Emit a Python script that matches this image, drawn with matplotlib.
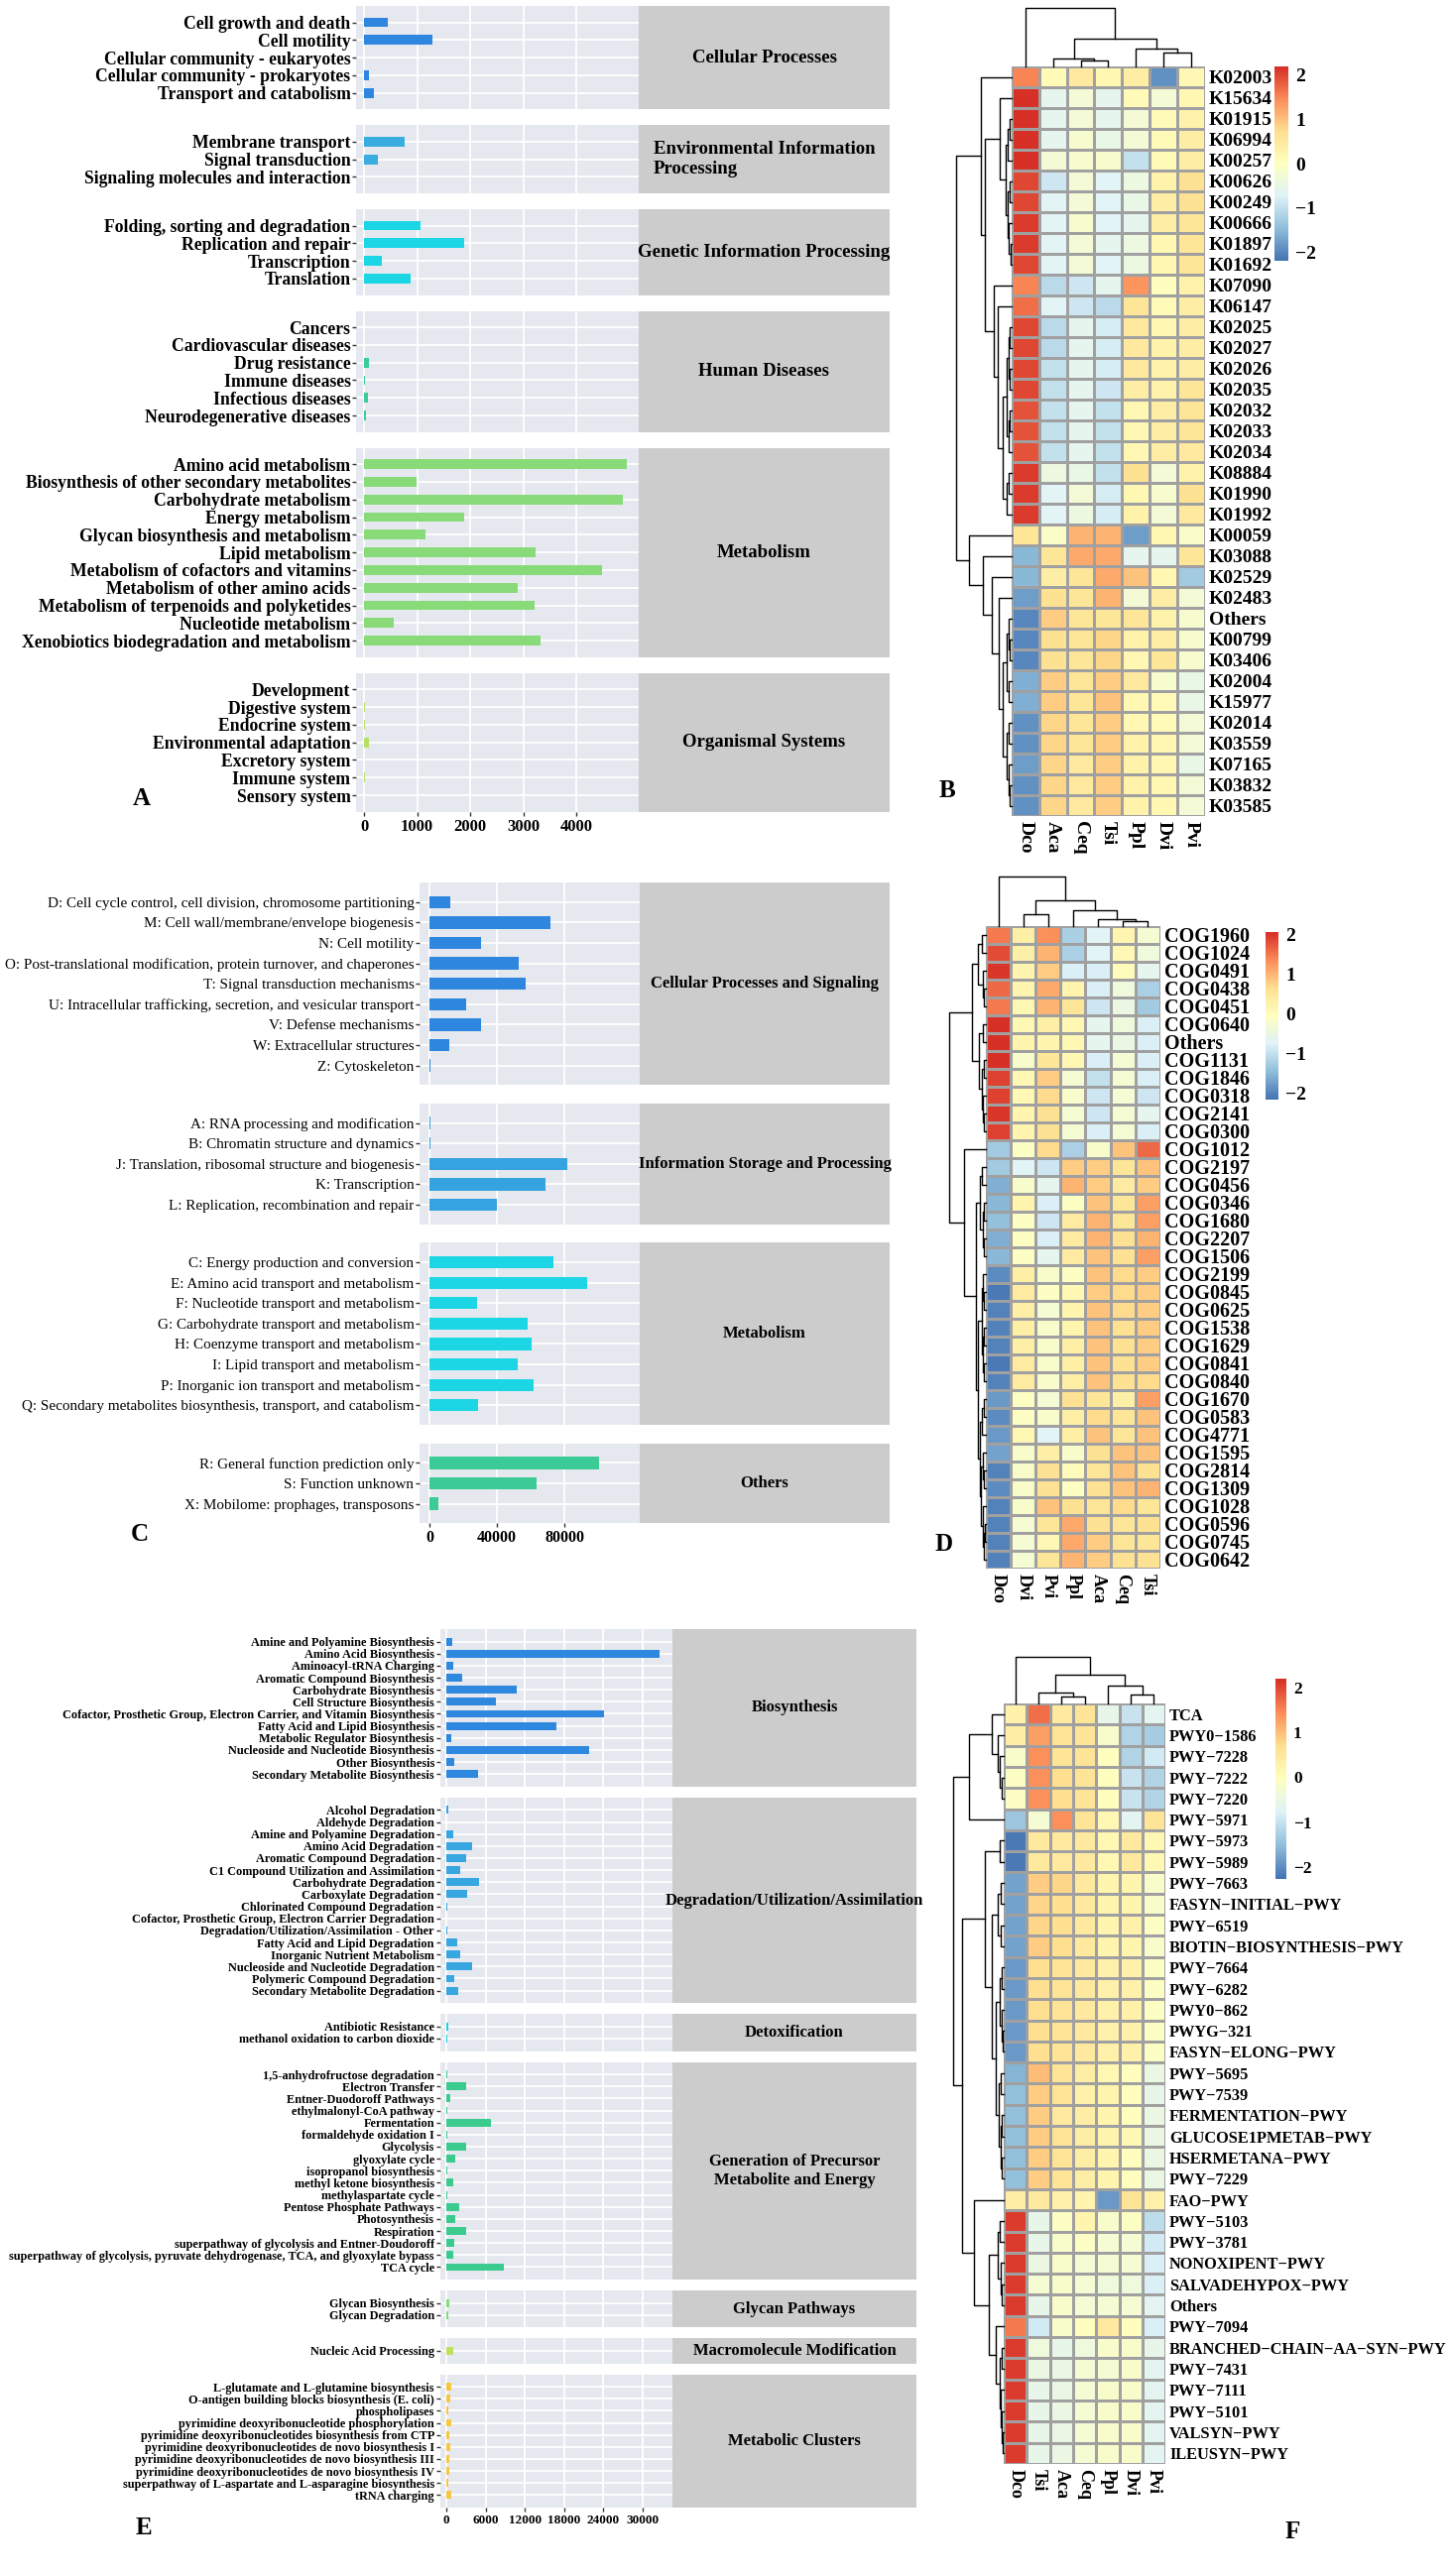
import numpy as np
import matplotlib.pyplot as plt
from matplotlib.colors import LinearSegmentedColormap

W, H = 1464, 2598
plt.rcParams['font.family'] = ['Liberation Serif', 'DejaVu Serif']

# ---------------- A: KEGG level 2 ----------------
kegg_groups = ['Cellular Processes', 'Environmental Information\nProcessing',
               'Genetic Information Processing', 'Human Diseases', 'Metabolism',
               'Organismal Systems']
kegg_labels = [
    ['Cell growth and death', 'Cell motility', 'Cellular community - eukaryotes',
     'Cellular community - prokaryotes', 'Transport and catabolism'],
    ['Membrane transport', 'Signal transduction', 'Signaling molecules and interaction'],
    ['Folding, sorting and degradation', 'Replication and repair', 'Transcription',
     'Translation'],
    ['Cancers', 'Cardiovascular diseases', 'Drug resistance', 'Immune diseases',
     'Infectious diseases', 'Neurodegenerative diseases'],
    ['Amino acid metabolism', 'Biosynthesis of other secondary metabolites',
     'Carbohydrate metabolism', 'Energy metabolism', 'Glycan biosynthesis and metabolism',
     'Lipid metabolism', 'Metabolism of cofactors and vitamins',
     'Metabolism of other amino acids', 'Metabolism of terpenoids and polyketides',
     'Nucleotide metabolism', 'Xenobiotics biodegradation and metabolism'],
    ['Development', 'Digestive system', 'Endocrine system', 'Environmental adaptation',
     'Excretory system', 'Immune system', 'Sensory system'],
]
kegg_values = [
    [447, 1293, 0, 93, 187],
    [760, 267, 4],
    [1060, 1880, 327, 880],
    [6, 6, 93, 12, 67, 33],
    [4944, 980, 4870, 1880, 1160, 3227, 4480, 2900, 3200, 567, 3327],
    [0, 14, 25, 100, 0, 15, 0],
]
kegg_colors = ['#2E86DE', '#3AACE0', '#1CD6E6', '#3CCB9A', '#88DB78', '#B8E068']
kegg_ticks = [0, 1000, 2000, 3000, 4000]

# ---------------- C: COG categories ----------------
cog_groups = ['Cellular Processes and Signaling', 'Information Storage and Processing',
              'Metabolism', 'Others']
cog_labels = [
    ['D: Cell cycle control, cell division, chromosome partitioning',
     'M: Cell wall/membrane/envelope biogenesis', 'N: Cell motility',
     'O: Post-translational modification, protein turnover, and chaperones',
     'T: Signal transduction mechanisms',
     'U: Intracellular trafficking, secretion, and vesicular transport',
     'V: Defense mechanisms', 'W: Extracellular structures', 'Z: Cytoskeleton'],
    ['A: RNA processing and modification', 'B: Chromatin structure and dynamics',
     'J: Translation, ribosomal structure and biogenesis', 'K: Transcription',
     'L: Replication, recombination and repair'],
    ['C: Energy production and conversion', 'E: Amino acid transport and metabolism',
     'F: Nucleotide transport and metabolism', 'G: Carbohydrate transport and metabolism',
     'H: Coenzyme transport and metabolism', 'I: Lipid transport and metabolism',
     'P: Inorganic ion transport and metabolism',
     'Q: Secondary metabolites biosynthesis, transport, and catabolism'],
    ['R: General function prediction only', 'S: Function unknown',
     'X: Mobilome: prophages, transposons'],
]
cog_values = [
    [12400, 71500, 30300, 53100, 57000, 22000, 30700, 12000, 400],
    [400, 300, 81600, 69000, 40200],
    [73500, 93500, 28200, 58000, 60700, 52400, 61600, 28600],
    [100500, 63800, 5000],
]
cog_colors = ['#2E86DE', '#35A3E0', '#1CD6E6', '#3CCB96']
cog_ticks = [0, 40000, 80000]

# ---------------- E: MetaCyc pathway classes ----------------
pwy_groups = ['Biosynthesis', 'Degradation/Utilization/Assimilation', 'Detoxification',
              'Generation of Precursor\nMetabolite and Energy', 'Glycan Pathways',
              'Macromolecule Modification', 'Metabolic Clusters']
pwy_labels = [
    ['Amine and Polyamine Biosynthesis', 'Amino Acid Biosynthesis', 'Aminoacyl-tRNA Charging',
     'Aromatic Compound Biosynthesis', 'Carbohydrate Biosynthesis',
     'Cell Structure Biosynthesis',
     'Cofactor, Prosthetic Group, Electron Carrier, and Vitamin Biosynthesis',
     'Fatty Acid and Lipid Biosynthesis', 'Metabolic Regulator Biosynthesis',
     'Nucleoside and Nucleotide Biosynthesis', 'Other Biosynthesis',
     'Secondary Metabolite Biosynthesis'],
    ['Alcohol Degradation', 'Aldehyde Degradation', 'Amine and Polyamine Degradation',
     'Amino Acid Degradation', 'Aromatic Compound Degradation',
     'C1 Compound Utilization and Assimilation', 'Carbohydrate Degradation',
     'Carboxylate Degradation', 'Chlorinated Compound Degradation',
     'Cofactor, Prosthetic Group, Electron Carrier Degradation',
     'Degradation/Utilization/Assimilation - Other', 'Fatty Acid and Lipid Degradation',
     'Inorganic Nutrient Metabolism', 'Nucleoside and Nucleotide Degradation',
     'Polymeric Compound Degradation', 'Secondary Metabolite Degradation'],
    ['Antibiotic Resistance', 'methanol oxidation to carbon dioxide'],
    ['1,5-anhydrofructose degradation', 'Electron Transfer', 'Entner-Duodoroff Pathways',
     'ethylmalonyl-CoA pathway', 'Fermentation', 'formaldehyde oxidation I', 'Glycolysis',
     'glyoxylate cycle', 'isopropanol biosynthesis', 'methyl ketone biosynthesis',
     'methylaspartate cycle', 'Pentose Phosphate Pathways', 'Photosynthesis', 'Respiration',
     'superpathway of glycolysis and Entner-Doudoroff',
     'superpathway of glycolysis, pyruvate dehydrogenase, TCA, and glyoxylate bypass',
     'TCA cycle'],
    ['Glycan Biosynthesis', 'Glycan Degradation'],
    ['Nucleic Acid Processing'],
    ['L-glutamate and L-glutamine biosynthesis',
     'O-antigen building blocks biosynthesis (E. coli)', 'phospholipases',
     'pyrimidine deoxyribonucleotide phosphorylation',
     'pyrimidine deoxyribonucleotides biosynthesis from CTP',
     'pyrimidine deoxyribonucleotides de novo biosynthesis I',
     'pyrimidine deoxyribonucleotides de novo biosynthesis III',
     'pyrimidine deoxyribonucleotides de novo biosynthesis IV',
     'superpathway of L-aspartate and L-asparagine biosynthesis', 'tRNA charging'],
]
pwy_values = [
    [900, 32600, 1070, 2400, 10800, 7500, 24100, 16800, 800, 21800, 1180, 4900],
    [270, 30, 1070, 3900, 2950, 2150, 4930, 3100, 110, 30, 110, 1600, 2150, 3900, 1180, 1800],
    [250, 200],
    [100, 3000, 600, 100, 6800, 150, 3000, 1300, 200, 1000, 150, 2000, 1300, 3000, 1200,
     1000, 8800],
    [450, 300],
    [1000],
    [700, 600, 300, 700, 500, 600, 500, 500, 300, 700],
]
pwy_colors = ['#2F88DF', '#38A6E0', '#1DD3E3', '#3CCB8F', '#86DC78', '#BFE05E', '#F6C743']
pwy_ticks = [0, 6000, 12000, 18000, 24000, 30000]

# ---------------- B: KO heatmap ----------------
ko_cols = ['Dco', 'Aca', 'Ceq', 'Tsi', 'Ppl', 'Dvi', 'Pvi']
ko_rows = ['K02003', 'K15634', 'K01915', 'K06994', 'K00257', 'K00626', 'K00249', 'K00666',
           'K01897', 'K01692', 'K07090', 'K06147', 'K02025', 'K02027', 'K02026', 'K02035',
           'K02032', 'K02033', 'K02034', 'K08884', 'K01990', 'K01992', 'K00059', 'K03088',
           'K02529', 'K02483', 'Others', 'K00799', 'K03406', 'K02004', 'K15977', 'K02014',
           'K03559', 'K07165', 'K03832', 'K03585']
ko_z = [
    [1.5, 0.1, 0.5, 0.2, 0.4, -1.9, 0.15],
    [2.2, -0.6, -0.3, -0.6, 0.1, -0.3, 0.2],
    [2.2, -0.6, -0.3, -0.6, -0.3, 0.1, 0.3],
    [2.2, -0.6, -0.2, -0.5, -0.3, 0.1, 0.4],
    [2.2, -0.3, -0.2, -0.2, -1.0, 0.1, 0.4],
    [2.0, -0.9, -0.3, -0.7, -0.4, 0.3, 0.7],
    [2.0, -0.7, -0.3, -0.7, -0.5, 0.4, 0.7],
    [2.1, -0.7, -0.2, -0.7, -0.6, 0.4, 0.6],
    [2.1, -0.7, -0.3, -0.6, -0.4, 0.2, 0.6],
    [2.0, -0.7, -0.3, -0.7, -0.4, 0.2, 0.6],
    [1.5, -1.1, -0.9, -0.6, 1.4, 0.0, 0.3],
    [1.7, -0.7, -0.9, -1.1, 0.6, 0.1, 0.4],
    [2.0, -1.1, -0.6, -0.8, 0.5, 0.2, 0.4],
    [2.0, -1.1, -0.6, -0.8, 0.5, 0.3, 0.4],
    [2.0, -1.0, -0.6, -0.8, 0.5, 0.3, 0.4],
    [2.0, -1.0, -0.6, -0.9, 0.4, 0.3, 0.6],
    [1.9, -1.0, -0.6, -1.0, 0.2, 0.4, 0.6],
    [1.9, -1.0, -0.6, -1.0, 0.2, 0.4, 0.6],
    [1.9, -1.0, -0.6, -1.0, 0.2, 0.4, 0.5],
    [2.1, -0.4, -0.5, -1.0, 0.7, -0.3, 0.3],
    [2.1, -0.7, -0.3, -0.8, 0.2, -0.2, 0.7],
    [2.1, -0.7, -0.4, -0.8, 0.3, -0.3, 0.5],
    [0.6, -0.1, 1.1, 1.1, -1.8, 0.2, -0.1],
    [-1.5, 0.6, 1.2, 1.2, -0.6, -0.6, 0.6],
    [-1.5, 0.4, 0.6, 1.2, 1.0, 0.2, -1.3],
    [-1.8, 0.7, 0.6, 1.1, -0.3, 0.4, -0.3],
    [-2.0, 0.9, 0.6, 0.6, 0.6, 0.3, -0.2],
    [-2.0, 0.7, 0.6, 0.8, 0.3, 0.4, -0.2],
    [-2.0, 0.7, 0.6, 0.8, 0.2, 0.6, -0.2],
    [-1.6, 0.9, 0.6, 0.9, 0.5, -0.2, -0.5],
    [-1.6, 0.9, 0.6, 1.0, 0.2, 0.1, -0.5],
    [-1.9, 0.8, 0.6, 0.9, 0.2, 0.1, -0.3],
    [-1.9, 0.8, 0.6, 0.9, 0.3, 0.2, -0.3],
    [-1.8, 0.8, 0.5, 0.9, 0.3, 0.2, -0.5],
    [-1.9, 0.8, 0.5, 0.9, 0.3, 0.2, -0.3],
    [-1.9, 0.8, 0.5, 0.9, 0.3, 0.2, -0.3],
]
# trees: [height, left, right]; leaves are display indices
ko_col_tree = [59, 0, [28, [8, 1, [6, 2, 3]], [18, 4, [14, 5, 6]]]]
ko_row_tree = [56,
               [30.5, 0, [27,
                          [12, 1, [6, [4, [2, 2, 3], 4], [4, [2, 5, 6], [3, 7, [1.5, 8, 9]]]]],
                          [18, 10, [14, 11, [9, [5, [3, [2, 12, 13], [2, 14, 15]],
                                                [3, [2, 16, 17], 18]],
                                            [5, [3, 19, 20], 21]]]]]],
               [43, 22, [29, 23, [20, 24, [13, 25,
                                            [9, [5, [3, 26, [2, 27, 28]], [3, 29, 30]],
                                             [5, [3, 31, 32], [3, 33, [2, 34, 35]]]]]]]]]

# ---------------- D: COG heatmap ----------------
cogh_cols = ['Dco', 'Dvi', 'Pvi', 'Ppl', 'Aca', 'Ceq', 'Tsi']
cogh_rows = ['COG1960', 'COG1024', 'COG0491', 'COG0438', 'COG0451', 'COG0640', 'Others',
             'COG1131', 'COG1846', 'COG0318', 'COG2141', 'COG0300', 'COG1012', 'COG2197',
             'COG0456', 'COG0346', 'COG1680', 'COG2207', 'COG1506', 'COG2199', 'COG0845',
             'COG0625', 'COG1538', 'COG1629', 'COG0841', 'COG0840', 'COG1670', 'COG0583',
             'COG4771', 'COG1595', 'COG2814', 'COG1309', 'COG1028', 'COG0596', 'COG0745',
             'COG0642']
cogh_z = [
    [1.5, 0.3, 1.3, -1.2, -0.7, 0.2, -0.3],
    [1.8, 0.3, 1.0, -1.2, -0.7, 0.1, -0.4],
    [2.0, 0.2, 0.8, -0.8, -0.8, 0.0, -0.6],
    [1.6, 0.2, 1.1, 0.2, -0.8, -0.4, -1.2],
    [1.5, 0.1, 1.0, 0.5, -0.9, -0.5, -1.3],
    [2.2, 0.1, 0.3, 0.1, -0.6, -0.4, -0.8],
    [2.2, 0.2, 0.2, 0.1, -0.6, -0.5, -0.8],
    [2.1, -0.2, 0.5, 0.1, -0.8, -0.3, -0.8],
    [1.9, 0.1, 0.8, -0.3, -1.0, -0.3, -0.8],
    [1.9, 0.1, 0.7, -0.2, -0.9, -0.3, -0.9],
    [2.0, 0.2, 0.6, -0.3, -0.9, -0.3, -0.6],
    [1.9, 0.2, 0.6, -0.3, -0.8, -0.3, -0.8],
    [-1.3, -0.1, 0.7, -1.2, -0.2, 0.9, 1.6],
    [-1.3, -0.7, -0.9, 0.8, 0.8, 0.5, 0.9],
    [-1.6, -0.2, -0.6, 1.0, 0.8, 0.4, 0.8],
    [-1.5, 0.2, -0.8, -0.1, 0.9, 0.5, 1.2],
    [-1.4, -0.1, -0.9, 0.4, 1.0, 0.5, 1.2],
    [-1.6, -0.1, -0.8, 0.4, 1.0, 0.6, 1.0],
    [-1.5, -0.1, -0.6, 0.4, 0.9, 0.6, 1.2],
    [-1.9, 0.3, -0.2, -0.1, 0.9, 0.7, 0.8],
    [-2.1, 0.4, -0.1, 0.1, 0.8, 0.7, 0.8],
    [-2.0, 0.3, -0.3, 0.2, 0.9, 0.7, 0.8],
    [-2.0, 0.3, -0.2, 0.2, 0.9, 0.6, 0.8],
    [-2.0, 0.3, -0.2, 0.3, 0.9, 0.6, 0.8],
    [-2.1, 0.4, -0.2, 0.3, 0.9, 0.6, 0.8],
    [-2.0, 0.4, -0.2, 0.3, 0.9, 0.6, 0.7],
    [-1.8, -0.1, -0.3, 0.6, 0.5, 0.3, 1.2],
    [-1.9, -0.1, -0.2, 0.3, 0.7, 0.5, 0.9],
    [-1.8, 0.1, -0.7, 0.3, 0.9, 0.5, 0.9],
    [-1.7, -0.2, 0.3, -0.2, 0.6, 0.9, 0.9],
    [-2.0, -0.2, 0.6, 0.0, 0.5, 0.9, 0.6],
    [-1.9, -0.2, 0.6, -0.1, 0.6, 0.9, 1.0],
    [-2.0, -0.2, 0.9, 0.6, 0.5, 0.7, 0.5],
    [-2.0, -0.3, 0.5, 1.1, 0.6, 0.5, 0.6],
    [-2.0, -0.3, 0.1, 1.1, 0.8, 0.5, 0.5],
    [-2.0, -0.3, 0.5, 1.0, 0.8, 0.6, 0.6],
]
cogh_col_tree = [50, 0, [26, [12, 1, 2], [16, 3, [7, 4, [5, 5, 6]]]]]
cogh_row_tree = [37,
                 [14, [8, [4, 0, 1], [3, 2, [2, 3, 4]]],
                  [7, [3, 5, 6], [4, [2, 7, 8], [2.5, 9, [1.5, 10, 11]]]]],
                 [22, 12,
                  [10, [6, [4, 13, 14], [3, [2, 15, 16], [2, 17, 18]]],
                   [8, [4, [3, 19, [2, 20, 21]], [2.5, [1.5, 22, 23], [1.5, 24, 25]]],
                    [6, [4, [2, 26, 27], 28],
                     [5, [3, 29, [2, 30, 31]], [3, 32, [2, [1, 33, 34], 35]]]]]]]]

# ---------------- F: pathway heatmap ----------------
path_cols = ['Dco', 'Tsi', 'Aca', 'Ceq', 'Ppl', 'Dvi', 'Pvi']
path_rows = ['TCA', 'PWY0\u22121586', 'PWY\u22127228', 'PWY\u22127222', 'PWY\u22127220',
             'PWY\u22125971', 'PWY\u22125973', 'PWY\u22125989', 'PWY\u22127663',
             'FASYN\u2212INITIAL\u2212PWY', 'PWY\u22126519',
             'BIOTIN\u2212BIOSYNTHESIS\u2212PWY', 'PWY\u22127664', 'PWY\u22126282',
             'PWY0\u2212862', 'PWYG\u2212321', 'FASYN\u2212ELONG\u2212PWY', 'PWY\u22125695',
             'PWY\u22127539', 'FERMENTATION\u2212PWY', 'GLUCOSE1PMETAB\u2212PWY',
             'HSERMETANA\u2212PWY', 'PWY\u22127229', 'FAO\u2212PWY', 'PWY\u22125103',
             'PWY\u22123781', 'NONOXIPENT\u2212PWY', 'SALVADEHYPOX\u2212PWY', 'Others',
             'PWY\u22127094', 'BRANCHED\u2212CHAIN\u2212AA\u2212SYN\u2212PWY', 'PWY\u22127431',
             'PWY\u22127111', 'PWY\u22125101', 'VALSYN\u2212PWY', 'ILEUSYN\u2212PWY']
path_z = [
    [0.3, 1.7, 0.5, 0.6, -0.6, -1.0, -0.7],
    [0.4, 1.3, 0.6, 0.6, -0.2, -1.2, -1.3],
    [-0.2, 1.4, 0.6, 0.6, 0.0, -1.2, -0.9],
    [-0.1, 1.4, 0.7, 0.6, 0.0, -1.0, -1.2],
    [-0.1, 1.4, 0.7, 0.6, 0.0, -1.0, -1.2],
    [-1.4, -0.3, 1.4, 0.6, 0.1, -0.7, 0.6],
    [-2.2, 0.5, 0.5, 0.5, 0.1, 0.5, 0.1],
    [-2.2, 0.5, 0.5, 0.5, 0.1, 0.5, 0.1],
    [-1.8, 0.9, 0.8, 0.5, 0.2, 0.2, -0.2],
    [-1.8, 0.8, 0.7, 0.5, 0.2, 0.2, -0.2],
    [-1.8, 0.8, 0.7, 0.5, 0.2, 0.3, -0.1],
    [-1.8, 0.9, 0.7, 0.5, 0.2, 0.2, -0.2],
    [-1.9, 0.7, 0.6, 0.5, 0.3, 0.3, -0.1],
    [-1.9, 0.7, 0.6, 0.5, 0.3, 0.3, -0.1],
    [-1.9, 0.7, 0.6, 0.5, 0.3, 0.3, -0.1],
    [-1.9, 0.7, 0.6, 0.5, 0.3, 0.3, -0.1],
    [-1.9, 0.7, 0.6, 0.5, 0.3, 0.3, -0.1],
    [-1.6, 1.0, 0.6, 0.4, 0.1, 0.0, -0.5],
    [-1.5, 0.9, 0.6, 0.3, 0.2, 0.0, -0.6],
    [-1.5, 0.9, 0.5, 0.4, 0.2, 0.0, -0.5],
    [-1.5, 0.9, 0.6, 0.4, 0.2, 0.1, -0.5],
    [-1.5, 0.9, 0.6, 0.4, 0.2, 0.0, -0.5],
    [-1.5, 0.9, 0.6, 0.4, 0.2, 0.0, -0.5],
    [0.4, 0.5, 0.3, 0.2, -1.9, 0.6, 0.3],
    [2.1, -0.6, -0.1, 0.2, -0.2, -0.1, -1.1],
    [2.1, -0.6, -0.2, -0.1, -0.3, -0.3, -0.9],
    [2.1, -0.5, -0.2, -0.3, -0.3, -0.3, -0.8],
    [2.1, -0.3, -0.2, -0.3, -0.4, -0.4, -0.8],
    [2.1, -0.6, -0.2, -0.3, -0.3, -0.3, -0.7],
    [1.6, -0.9, -0.2, 0.0, 0.5, 0.0, -0.8],
    [2.1, -0.4, -0.6, -0.4, -0.2, -0.2, -0.6],
    [2.1, -0.5, -0.5, -0.3, -0.3, -0.2, -0.7],
    [2.1, -0.6, -0.5, -0.3, -0.2, -0.2, -0.7],
    [2.1, -0.6, -0.5, -0.3, -0.2, -0.2, -0.7],
    [2.1, -0.6, -0.5, -0.3, -0.2, -0.2, -0.7],
    [2.1, -0.6, -0.5, -0.3, -0.2, -0.2, -0.7],
]
path_col_tree = [47, 0, [29, [11, 1, [7, 2, 3]], [18, 4, [9, 5, 6]]]]
path_row_tree = [51,
                 [35, [12, 0, [6, 1, [4, 2, [2, 3, 4]]]], 5],
                 [42,
                  [19, [4, 6, 7],
                   [12, [6, [3, 8, 9], [3, 10, 11]],
                    [8, [4, [2, 12, 13], [2, 14, [1, 15, 16]]],
                     [5, [3, 17, 18], [3, [2, 19, 20], [2, 21, 22]]]]]],
                  [30, 23,
                   [15, [6, [4, 24, 25], [3, 26, [2, 27, 28]]],
                    [8, 29, [4, [2, 30, 31], [3, 32, [2, 33, [1, 34, 35]]]]]]]]]

hm_cmap = LinearSegmentedColormap.from_list(
    'pheat', ['#4575B4', '#91BFDB', '#E0F3F8', '#FFFFBF', '#FEE090', '#FC8D59', '#D73027'], N=100)
BG = '#E5E8EE'
STRIP = '#CCCCCC'

fig = plt.figure(figsize=(W / 100, H / 100), dpi=100)


def px_axes(x0, y0, x1, y1):
    return fig.add_axes([x0 / W, 1 - y1 / H, (x1 - x0) / W, (y1 - y0) / H])


def bar_panel(groups, labels, values, colors, x0, x1, x2, y0, unit, pad, gap, xlim, ticks,
              label_fs, label_w, strip_fs, tick_fs, bar_h, strip_ma='center'):
    y = y0
    for gi, (g, labs, vals, col) in enumerate(zip(groups, labels, values, colors)):
        n = len(labs)
        h = (n + 2 * pad) * unit
        ax = px_axes(x0, y, x1, y + h)
        ax.set_facecolor(BG)
        pos = np.arange(n)
        ax.barh(pos, vals, height=bar_h, color=col, zorder=3)
        ax.set_xlim(*xlim)
        ax.set_ylim(n - 0.5 + pad, -0.5 - pad)
        ax.set_yticks(pos, labs, fontsize=label_fs, fontweight=label_w)
        ax.set_xticks(ticks)
        ax.set_axisbelow(True)
        ax.grid(True, color='white', lw=1.3)
        ax.tick_params(axis='y', length=3, width=1, color='#333333', pad=1)
        ax.tick_params(axis='x', length=3, width=1, color='#333333', labelsize=tick_fs, pad=2)
        for s in ax.spines.values():
            s.set_visible(False)
        if gi < len(groups) - 1:
            ax.tick_params(axis='x', length=0, labelbottom=False)
        else:
            for t in ax.get_xticklabels():
                t.set_fontweight('bold')
        st = px_axes(x1, y, x2, y + h)
        st.set_facecolor(STRIP)
        st.set_xticks([])
        st.set_yticks([])
        for s in st.spines.values():
            s.set_visible(False)
        st.text(0.5, 0.5, g, transform=st.transAxes, ha='center', va='center',
                fontsize=strip_fs, fontweight='bold', multialignment=strip_ma, linespacing=1.25)
        y += h + gap


def draw_tree(ax, node, orient):
    if not isinstance(node, list):
        return node, 0.0
    h, left, right = node
    p1, h1 = draw_tree(ax, left, orient)
    p2, h2 = draw_tree(ax, right, orient)
    if orient == 'top':
        ax.plot([p1, p1, p2, p2], [h1, h, h, h2], color='black', lw=1, clip_on=False)
    else:
        ax.plot([h1, h, h, h2], [p1, p1, p2, p2], color='black', lw=1, clip_on=False)
    return (p1 + p2) / 2, h


def heat_panel(z, rows, cols, row_tree, col_tree, x0, y0, cw, rh, vlim, row_fs, col_fs):
    data = np.array(z)
    nr, nc = data.shape
    x1, y1 = x0 + nc * cw, y0 + nr * rh
    ax = px_axes(x0, y0, x1, y1)
    ax.pcolormesh(np.arange(nc + 1) - 0.5, np.arange(nr + 1) - 0.5, data, cmap=hm_cmap,
                  vmin=vlim[0], vmax=vlim[1], edgecolors='#A0A0A0', linewidth=0.8)
    ax.set_xlim(-0.5, nc - 0.5)
    ax.set_ylim(nr - 0.5, -0.5)
    ax.axis('off')
    for i, r in enumerate(rows):
        ax.annotate(r, (nc - 0.5, i), xytext=(4, 0), textcoords='offset pixels', ha='left',
                    va='center_baseline', fontsize=row_fs, fontweight='bold',
                    annotation_clip=False)
    for j, c in enumerate(cols):
        ax.annotate(c, (j, nr - 0.5), xytext=(0, -5), textcoords='offset pixels',
                    ha='center', va='top', rotation=270, fontsize=col_fs, fontweight='bold',
                    annotation_clip=False)
    rroot = row_tree[0]
    rax = px_axes(x0 - rroot, y0, x0, y1)
    rax.set_xlim(rroot, 0)
    rax.set_ylim(nr - 0.5, -0.5)
    rax.axis('off')
    draw_tree(rax, row_tree, 'left')
    croot = col_tree[0]
    cax = px_axes(x0, y0 - croot, x1, y0)
    cax.set_xlim(-0.5, nc - 0.5)
    cax.set_ylim(0, croot)
    cax.axis('off')
    draw_tree(cax, col_tree, 'top')


def colorbar(x0, y0, x1, y1, vlim, fs):
    cax = px_axes(x0, y0, x1, y1)
    grad = np.linspace(vlim[0], vlim[1], 200).reshape(-1, 1)
    cax.imshow(grad, aspect='auto', cmap=hm_cmap, vmin=vlim[0], vmax=vlim[1], origin='lower',
               extent=(0, 1, vlim[0], vlim[1]))
    cax.set_xticks([])
    cax.yaxis.tick_right()
    ticks = [2, 1, 0, -1, -2]
    cax.set_yticks(ticks, [str(t).replace('-', '\u2212') for t in ticks])
    cax.tick_params(length=0, labelsize=fs, pad=5)
    for t in cax.get_yticklabels():
        t.set_fontweight('bold')
    for s in cax.spines.values():
        s.set_visible(False)


def letter(x, y, s):
    fig.text(x / W, 1 - y / H, s, fontsize=18, fontweight='bold', ha='center', va='center')


# A
bar_panel(kegg_groups, kegg_labels, kegg_values, kegg_colors, 359, 644, 897, 6, 17.8, 0.43,
          16, (-150, 5168), kegg_ticks, 12.7, 'bold', 13.5, 12, 0.55, strip_ma='left')
# C
bar_panel(cog_groups, cog_labels, cog_values, cog_colors, 423, 645, 897, 890, 20.6, 0.46,
          18.5, (-5900, 124700), cog_ticks, 10.9, 'normal', 12, 11.5, 0.6)
# E
bar_panel(pwy_groups, pwy_labels, pwy_values, pwy_colors, 443.5, 678, 924, 1643, 12.15, 0.535,
          11, (-1000, 34545), pwy_ticks, 8.8, 'bold', 12, 9.5, 0.65)

# B, D, F
heat_panel(ko_z, ko_rows, ko_cols, ko_row_tree, ko_col_tree, 1020, 67, 27.8, 21,
           (-2.2, 2.2), 14, 14)
colorbar(1285, 67, 1299, 263, (-2.2, 2.2), 14)
heat_panel(cogh_z, cogh_rows, cogh_cols, cogh_row_tree, cogh_col_tree, 994, 934, 25.1, 18,
           (-2.15, 2.05), 14.5, 13)
colorbar(1276, 940, 1289, 1109, (-2.15, 2.05), 14)
heat_panel(path_z, path_rows, path_cols, path_row_tree, path_col_tree, 1012, 1718, 23.3, 21.3,
           (-2.27, 2.2), 11.8, 13)
colorbar(1286, 1693, 1297, 1895, (-2.27, 2.2), 12.5)

letter(143, 805, 'A')
letter(955, 797, 'B')
letter(141, 1548, 'C')
letter(952, 1558, 'D')
letter(145, 2549, 'E')
letter(1303, 2554, 'F')

fig.savefig('out.png', dpi=100)
